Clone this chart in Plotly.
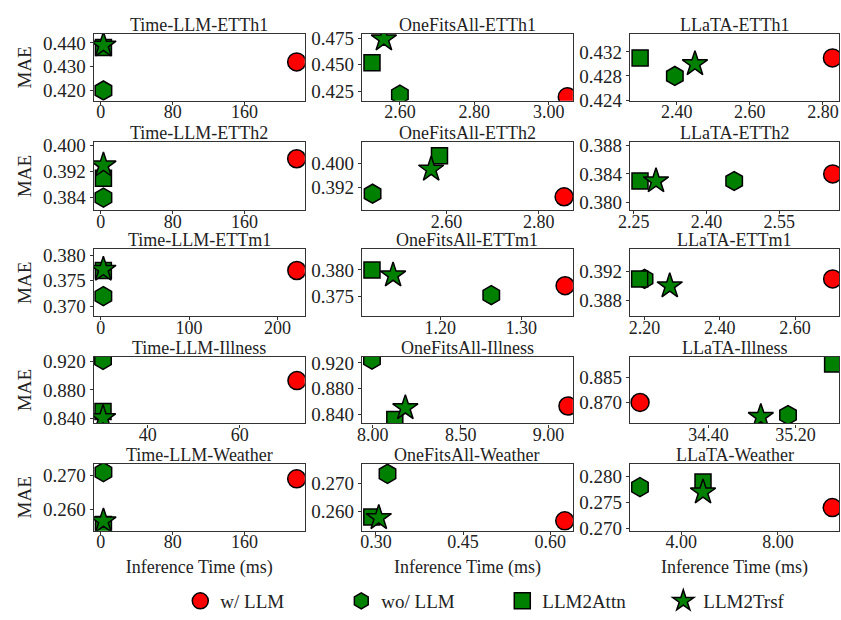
import plotly.graph_objects as go

# Variants, in plotting order
variants = ["w/ LLM", "wo/ LLM", "LLM2Attn", "LLM2Trsf"]
models = ["Time-LLM", "OneFitsAll", "LLaTA"]
datasets = ["ETTh1", "ETTh2", "ETTm1", "Illness", "Weather"]

# Inference time (ms) per dataset, values ordered as in `variants`
time_llm_time = [
    [218, 3, 3, 3],
    [218, 3, 3, 3],
    [222, 3, 3, 3],
    [72.4, 30.3, 30.3, 30.3],
    [218, 3, 3, 3],
]
time_llm_mae = [
    [0.432, 0.420, 0.438, 0.439],
    [0.396, 0.384, 0.390, 0.394],
    [0.377, 0.372, 0.377, 0.3772],
    [0.893, 0.922, 0.850, 0.841],
    [0.269, 0.271, 0.2555, 0.2565],
]

onefitsall_time = [
    [3.05, 2.60, 2.525, 2.557],
    [2.855, 2.44, 2.585, 2.567],
    [1.354, 1.263, 1.116, 1.142],
    [9.11, 7.995, 8.125, 8.185],
    [0.625, 0.320, 0.293, 0.305],
]
onefitsall_mae = [
    [0.420, 0.422, 0.452, 0.474],
    [0.389, 0.390, 0.4025, 0.398],
    [0.377, 0.3752, 0.380, 0.379],
    [0.853, 0.925, 0.832, 0.850],
    [0.2566, 0.2734, 0.258, 0.2577],
]

llata_time = [
    [2.826, 2.395, 2.30, 2.45],
    [2.66, 2.457, 2.263, 2.296],
    [2.70, 2.20, 2.187, 2.267],
    [33.77, 35.13, 35.54, 34.88],
    [10.25, 2.29, 4.90, 4.90],
]
llata_mae = [
    [0.431, 0.428, 0.431, 0.430],
    [0.384, 0.383, 0.383, 0.383],
    [0.391, 0.391, 0.391, 0.390],
    [0.870, 0.8625, 0.893, 0.8615],
    [0.274, 0.278, 0.279, 0.277],
]

# Axis ranges and tick values per panel (row, col)
x_ranges = [
    [[-7.7, 227], [2.498, 3.065], [2.2725, 2.844]],
    [[-7.7, 227], [2.417, 2.874], [2.2425, 2.673]],
    [[-7.8, 231], [1.1036, 1.3636], [2.1615, 2.717]],
    [[28.3, 74.1], [7.938, 9.138], [33.678, 35.599]],
    [[-7.7, 227], [0.276, 0.639], [1.88, 10.53]],
]
x_ticks = [
    [[0, 80, 160], [2.6, 2.8, 3.0], [2.4, 2.6, 2.8]],
    [[0, 80, 160], [2.6, 2.8], [2.25, 2.40, 2.55]],
    [[0, 100, 200], [1.2, 1.3], [2.2, 2.4, 2.6]],
    [[40, 60], [8.0, 8.5, 9.0], [34.4, 35.2]],
    [[0, 80, 160], [0.30, 0.45, 0.60], [4.0, 8.0]],
]
y_ranges = [
    [[0.4157, 0.4437], [0.4163, 0.4788], [0.4239, 0.43495]],
    [[0.3802, 0.4011], [0.3847, 0.4069], [0.3789, 0.3885]],
    [[0.3681, 0.3811], [0.3712, 0.3839], [0.3858, 0.3951]],
    [[0.8333, 0.9263], [0.826, 0.9295], [0.8575, 0.8973]],
    [[0.2537, 0.2734], [0.2531, 0.2769], [0.2695, 0.2825]],
]
y_ticks = [
    [[0.420, 0.430, 0.440], [0.425, 0.450, 0.475], [0.424, 0.428, 0.432]],
    [[0.384, 0.392, 0.400], [0.392, 0.400], [0.380, 0.384, 0.388]],
    [[0.370, 0.375, 0.380], [0.375, 0.380], [0.388, 0.392]],
    [[0.840, 0.880, 0.920], [0.840, 0.880, 0.920], [0.870, 0.885]],
    [[0.260, 0.270], [0.260, 0.270], [0.270, 0.275, 0.280]],
]
x_fmt = [".0f", ".2f", ".2f"]

all_time = [time_llm_time, onefitsall_time, llata_time]
all_mae = [time_llm_mae, onefitsall_mae, llata_mae]

styles = [
    dict(symbol="circle", color="#ff0000", size=18),
    dict(symbol="hexagon", color="#008000", size=19),
    dict(symbol="square", color="#008000", size=16),
    dict(symbol="star", color="#008000", size=19),
]

W, H = 841, 620
col_px = [(83, 297), (355, 569), (627, 839)]
row_px = [(28, 97), (140, 210), (251, 320), (362, 431), (473, 542)]
FONT = "Liberation Serif"
TXT = "#222222"

fig = go.Figure()
annotations = []
for r in range(5):
    for c in range(3):
        idx = r * 3 + c + 1
        xa = "x" if idx == 1 else f"x{idx}"
        ya = "y" if idx == 1 else f"y{idx}"
        xs = all_time[c][r]
        ys = all_mae[c][r]
        for k, st in enumerate(styles):
            fig.add_trace(go.Scatter(
                x=[xs[k]], y=[ys[k]], mode="markers", xaxis=xa, yaxis=ya,
                name=variants[k], legendgroup=variants[k],
                showlegend=(idx == 1),
                marker=dict(symbol=st["symbol"], color=st["color"], size=st["size"],
                            line=dict(color="black", width=1.5)),
                cliponaxis=True,
            ))
        x0, x1 = col_px[c]
        y0, y1 = row_px[r]
        xkey = "xaxis" if idx == 1 else f"xaxis{idx}"
        ykey = "yaxis" if idx == 1 else f"yaxis{idx}"
        axis_common = dict(
            showline=True, linecolor="#333333", linewidth=1.3, mirror=True,
            ticks="outside", ticklen=3, tickcolor="#333333", showgrid=False,
            zeroline=False,
        )
        fig.layout[xkey] = dict(
            axis_common, domain=[x0 / W, x1 / W], anchor=ya,
            range=x_ranges[r][c], tickvals=x_ticks[r][c], tickformat=x_fmt[c],
            tickfont=dict(family=FONT, size=18, color=TXT), ticklabelstandoff=-8,
            title=dict(text="Inference Time (ms)" if r == 4 else "",
                       font=dict(family=FONT, size=18, color=TXT), standoff=9),
        )
        fig.layout[ykey] = dict(
            axis_common, domain=[1 - y1 / H, 1 - y0 / H], anchor=xa,
            range=y_ranges[r][c], tickvals=y_ticks[r][c], tickformat=".3f",
            tickfont=dict(family=FONT, size=19, color=TXT),
            title=dict(text="MAE" if c == 0 else "",
                       font=dict(family=FONT, size=19, color=TXT), standoff=6),
        )
        annotations.append(dict(
            text=f"{models[c]}-{datasets[r]}", xref="paper", yref="paper",
            x=(x0 + x1) / 2 / W, y=1 - y0 / H, xanchor="center", yanchor="bottom",
            yshift=-3, showarrow=False, font=dict(family=FONT, size=18, color=TXT),
        ))

fig.update_layout(
    width=W, height=H, margin=dict(l=0, r=0, t=0, b=0),
    paper_bgcolor="white", plot_bgcolor="white",
    annotations=annotations,
    legend=dict(orientation="h", x=0.203, y=1 - 615 / H, xanchor="left", yanchor="middle",
                entrywidth=116, entrywidthmode="pixels", tracegroupgap=0,
                font=dict(family=FONT, size=19, color=TXT),
                itemsizing="trace"),
)

fig.write_html("out.html")
